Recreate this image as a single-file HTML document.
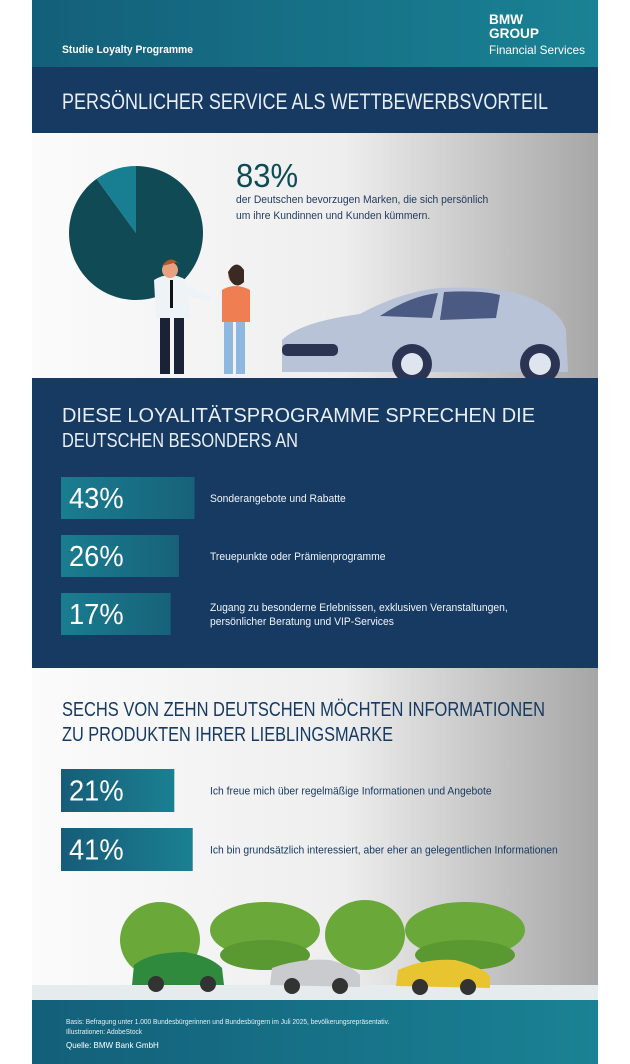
<!DOCTYPE html>
<html><head><meta charset="utf-8"><style>
html,body{margin:0;padding:0;background:#fff;}
svg{display:block;font-family:"Liberation Sans",sans-serif;}
</style></head><body>
<svg id="root" width="630" height="1064" viewBox="0 0 630 1064">
<defs>
<linearGradient id="teal" x1="0" x2="1"><stop offset="0" stop-color="#135f7a"/><stop offset="1" stop-color="#1a8294"/></linearGradient>
<linearGradient id="grey" x1="0" x2="1"><stop offset="0" stop-color="#fbfbfb"/><stop offset="0.55" stop-color="#eeeeee"/><stop offset="1" stop-color="#a6a6a6"/></linearGradient>
<linearGradient id="bar" x1="0" x2="1"><stop offset="0" stop-color="#1a7d90"/><stop offset="1" stop-color="#176279"/></linearGradient>
<linearGradient id="bar2" x1="0" x2="1"><stop offset="0" stop-color="#175c78"/><stop offset="1" stop-color="#1a8092"/></linearGradient>
</defs>
<!-- header -->
<rect x="32" y="0" width="566" height="67" fill="url(#teal)"/>
<text class="nar" x="62" y="53" font-size="11" font-weight="bold" fill="#fff">Studie Loyalty Programme</text>
<g fill="#fff">
<text x="489" y="24" font-size="14" font-weight="bold" textLength="34" lengthAdjust="spacingAndGlyphs">BMW</text>
<text x="489" y="38" font-size="14" font-weight="bold" textLength="50" lengthAdjust="spacingAndGlyphs">GROUP</text>
<text x="489" y="54" font-size="12" textLength="96" lengthAdjust="spacingAndGlyphs">Financial Services</text>
</g>
<rect x="32" y="67" width="566" height="66" fill="#163a62"/>
<text x="62" y="109" font-size="22" fill="#e8eef5" textLength="486" lengthAdjust="spacingAndGlyphs">PERSÖNLICHER SERVICE ALS WETTBEWERBSVORTEIL</text>

<!-- section 1 -->
<rect x="32" y="133" width="566" height="245" fill="url(#grey)"/>
<g id="pie"></g>
<text class="nar" x="236" y="187" font-size="33" fill="#0f4a55">83%</text>
<text class="nar" x="236" y="203" font-size="11" fill="#1f3a5a">der Deutschen bevorzugen Marken, die sich persönlich</text>
<text class="nar" x="236" y="219" font-size="11" fill="#1f3a5a">um ihre Kundinnen und Kunden kümmern.</text>
<!-- people -->
<g>
<rect x="160" y="312" width="10" height="62" fill="#1a2236"/><rect x="174" y="312" width="10" height="62" fill="#1a2236"/>
<path d="M154 280 Q170 270 186 280 L190 318 L156 318 Z" fill="#eef3f8"/>
<path d="M186 285 L212 296 L210 302 L184 296Z" fill="#eef3f8"/>
<rect x="170" y="280" width="3" height="28" fill="#111"/>
<circle cx="170" cy="270" r="8" fill="#e9a27f"/><path d="M162 266 Q170 254 179 264 L178 262 Z" fill="#b4552d"/>
</g>
<g>
<rect x="224" y="320" width="9" height="54" fill="#8fb8e0"/><rect x="236" y="320" width="9" height="54" fill="#8fb8e0"/>
<path d="M222 290 Q235 282 250 290 L250 322 L222 322 Z" fill="#ef7f52"/>
<circle cx="236" cy="275" r="8" fill="#e9a27f"/><path d="M228 272 Q236 258 244 270 L244 282 Q236 290 230 280Z" fill="#3a2a22"/>
</g>
<g>
<path d="M282 340 Q300 322 360 314 Q400 292 440 288 Q500 285 530 298 Q560 310 566 330 L568 372 L282 372 Z" fill="#b8c3d8"/>
<path d="M380 316 Q410 296 438 293 L432 318 Z M444 292 Q480 290 500 295 L496 318 L440 320 Z" fill="#4a5a82"/>
<rect x="282" y="344" width="56" height="12" rx="5" fill="#2b3553"/>
<circle cx="412" cy="364" r="20" fill="#2b3553"/><circle cx="412" cy="364" r="11" fill="#dfe5ee"/>
<circle cx="540" cy="364" r="20" fill="#2b3553"/><circle cx="540" cy="364" r="11" fill="#dfe5ee"/>
</g>

<!-- section 2 -->
<rect x="32" y="378" width="566" height="290" fill="#163a62"/>
<text x="62" y="422" font-size="20" fill="#e8eef5" textLength="473" lengthAdjust="spacingAndGlyphs">DIESE LOYALITÄTSPROGRAMME SPRECHEN DIE</text>
<text x="62" y="447" font-size="20" fill="#e8eef5" textLength="236" lengthAdjust="spacingAndGlyphs">DEUTSCHEN BESONDERS AN</text>
<g id="bars1"></g>

<!-- section 3 -->
<rect x="32" y="668" width="566" height="332" fill="url(#grey)"/>
<text x="62" y="716" font-size="20" fill="#163a62" textLength="483" lengthAdjust="spacingAndGlyphs">SECHS VON ZEHN DEUTSCHEN MÖCHTEN INFORMATIONEN</text>
<text x="62" y="741" font-size="20" fill="#163a62" textLength="331" lengthAdjust="spacingAndGlyphs">ZU PRODUKTEN IHRER LIEBLINGSMARKE</text>
<g id="bars2"></g>
<rect x="32" y="985" width="566" height="15" fill="#e6ebee"/>
<g fill="#6aa83a">
<ellipse cx="160" cy="940" rx="40" ry="38"/><ellipse cx="265" cy="930" rx="55" ry="28"/><ellipse cx="365" cy="935" rx="40" ry="35"/><ellipse cx="465" cy="930" rx="60" ry="28"/>
<ellipse cx="265" cy="955" rx="45" ry="15" fill="#5a9832"/><ellipse cx="465" cy="955" rx="50" ry="15" fill="#5a9832"/>
</g>
<g>
<path d="M132 985 L134 965 Q150 952 185 952 Q210 956 222 968 L224 985Z" fill="#2f8a3e"/>
<circle cx="156" cy="984" r="8" fill="#333"/><circle cx="208" cy="984" r="8" fill="#333"/>
<path d="M270 985 L272 968 Q300 958 330 960 Q352 966 360 975 L360 987Z" fill="#c9cbce"/>
<circle cx="292" cy="986" r="8" fill="#333"/><circle cx="340" cy="986" r="8" fill="#333"/>
<path d="M396 986 L398 970 Q425 958 455 960 Q480 966 490 976 L490 988Z" fill="#e8c430"/>
<circle cx="420" cy="987" r="8" fill="#333"/><circle cx="468" cy="987" r="8" fill="#333"/>
</g>

<!-- footer -->
<rect x="32" y="1000" width="566" height="64" fill="url(#teal)"/>
<text class="nar" x="66" y="1024" font-size="7" fill="#e6f0f3">Basis: Befragung unter 1.000 Bundesbürgerinnen und Bundesbürgern im Juli 2025, bevölkerungsrepräsentativ.</text>
<text class="nar" x="66" y="1034" font-size="7" fill="#e6f0f3">Illustrationen: AdobeStock</text>
<text class="nar" x="66" y="1048" font-size="8.5" fill="#fff">Quelle: BMW Bank GmbH</text>
</svg>
<script>
const pieValues = [90, 10];
const programValues = [43, 26, 17];
const programLabels = [["Sonderangebote und Rabatte"],["Treuepunkte oder Prämienprogramme"],["Zugang zu besonderne Erlebnissen, exklusiven Veranstaltungen,","persönlicher Beratung und VIP-Services"]];
const infoValues = [21, 41];
const infoLabels = [["Ich freue mich über regelmäßige Informationen und Angebote"],["Ich bin grundsätzlich interessiert, aber eher an gelegentlichen Informationen"]];

const NS = "http://www.w3.org/2000/svg";
function mk(tag, attrs, parent){const e=document.createElementNS(NS,tag);for(const k in attrs)e.setAttribute(k,attrs[k]);parent.appendChild(e);return e;}
function barW(v){return 94 + 0.92*v;}

(function(){
  const g=document.getElementById('pie');
  const cx=136, cy=233, r=67, total=pieValues.reduce((a,b)=>a+b,0);
  const colors=['#0f4a55','#187e92'];
  let a0=0;
  pieValues.forEach((v,i)=>{
    const a1=a0+v/total*Math.PI*2;
    const x0=cx+r*Math.sin(a0), y0=cy-r*Math.cos(a0), x1=cx+r*Math.sin(a1), y1=cy-r*Math.cos(a1);
    const p=mk('path',{d:`M${cx} ${cy} L${x0} ${y0} A${r} ${r} 0 ${(a1-a0)>Math.PI?1:0} 1 ${x1} ${y1} Z`,fill:colors[i]},g);
    
    
    a0=a1;
  });
})();

function drawBars(id, values, labels, y0, step, h, fill, textColor){
  const g=document.getElementById(id);
  values.forEach((v,i)=>{
    const y=y0+i*step;
    const r=mk('rect',{x:61,y:y,width:barW(v),height:h,fill:fill},g);
    
    
    const t=mk('text',{x:69,y:y+h/2+10,'font-size':29,fill:'#fff','class':'nar'},g);
    t.textContent=v+'%';
    
    
    const lines=labels[i];
    lines.forEach((ln,j)=>{
      const ty=y+h/2+4+(j-(lines.length-1)/2)*14;
      const l=mk('text',{x:210,y:ty,'font-size':11,fill:textColor,'class':'nar'},g);
      l.textContent=ln;
      
      
    });
  });
}
drawBars('bars1', programValues, programLabels, 477, 58, 42, 'url(#bar)', '#f0f4f8');
drawBars('bars2', infoValues, infoLabels, 769, 59, 43, 'url(#bar2)', '#163a62');

document.querySelectorAll('text.nar').forEach(t=>{
  const w=t.getComputedTextLength();
  t.setAttribute('textLength', (w*0.94).toFixed(1));
  t.setAttribute('lengthAdjust','spacingAndGlyphs');
});
</script>
</body></html>
